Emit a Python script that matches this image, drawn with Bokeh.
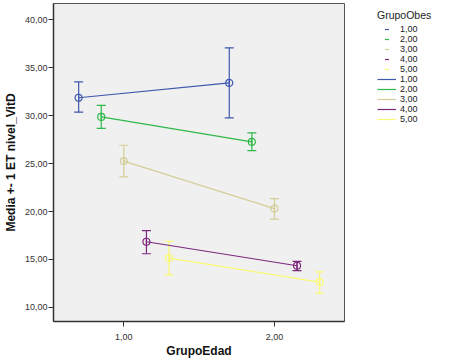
import math
from bokeh.plotting import figure
from bokeh.models import (ColumnDataSource, Whisker, TeeHead, Legend, LegendItem,
                          FixedTicker, Range1d)
from bokeh.embed import file_html
from bokeh.resources import INLINE

# ---- data ----
grupo_edad = [1.0, 2.0]
x_tick_labels = ["1,00", "2,00"]
y_ticks = [10, 15, 20, 25, 30, 35, 40]
y_tick_labels = ["10,00", "15,00", "20,00", "25,00", "30,00", "35,00", "40,00"]
grupos = ["1,00", "2,00", "3,00", "4,00", "5,00"]

mean_g1 = [31.85, 33.40]
upper_g1 = [33.50, 37.05]
lower_g1 = [30.35, 29.76]

mean_g2 = [29.85, 27.25]
upper_g2 = [31.05, 28.20]
lower_g2 = [28.65, 26.35]

mean_g3 = [25.25, 20.30]
upper_g3 = [26.90, 21.35]
lower_g3 = [23.60, 19.20]

mean_g4 = [16.85, 14.35]
upper_g4 = [18.00, 14.80]
lower_g4 = [15.60, 13.85]

mean_g5 = [15.15, 12.65]
upper_g5 = [16.90, 13.70]
lower_g5 = [13.40, 11.50]

means = [mean_g1, mean_g2, mean_g3, mean_g4, mean_g5]
uppers = [upper_g1, upper_g2, upper_g3, upper_g4, upper_g5]
lowers = [lower_g1, lower_g2, lower_g3, lower_g4, lower_g5]

# ---- style ----
colors = ["#3E58AC", "#2EB848", "#D3CE97", "#7C287D", "#FBF873"]
dodge_offsets = [-0.3, -0.15, 0.0, 0.15, 0.3]
FONT = "Liberation Sans"

p = figure(frame_width=291, frame_height=318, output_backend="svg",
           toolbar_location=None,
           x_range=Range1d(0.533, 2.465), y_range=Range1d(8.54, 41.67),
           min_border_left=45, min_border_right=0, min_border_top=3,
           min_border_bottom=30)

p.background_fill_color = "#F0F0F0"
p.border_fill_color = "white"
p.outline_line_color = "#555555"
p.outline_line_width = 1
p.xgrid.visible = False
p.ygrid.visible = False

err_items = []
line_items = []
for i in range(5):
    xs = [e + dodge_offsets[i] for e in grupo_edad]
    src = ColumnDataSource(dict(x=xs, y=means[i], up=uppers[i], lo=lowers[i]))
    lr = p.line("x", "y", source=src, line_color=colors[i], line_width=1.2)
    p.scatter("x", "y", source=src, marker="circle", size=7, fill_color=None,
              line_color=colors[i], line_width=1.2)
    w = Whisker(base="x", upper="up", lower="lo", source=src, dimension="height",
                line_color=colors[i], line_width=1.2,
                upper_head=TeeHead(size=9, line_color=colors[i], line_width=1.2),
                lower_head=TeeHead(size=9, line_color=colors[i], line_width=1.2))
    p.add_layout(w)
    icon = p.scatter("x", "y", source=src, marker="dash", angle=math.pi / 2,
                     size=8, line_color=colors[i], line_width=1.2)
    err_items.append(LegendItem(label=grupos[i], renderers=[icon]))
    line_items.append(LegendItem(label=grupos[i], renderers=[lr]))

legend = Legend(items=err_items + line_items, title="GrupoObes",
                title_text_font=FONT, title_text_font_size="10.5px",
                title_text_font_style="normal", title_text_color="#222222",
                title_standoff=3,
                label_text_font=FONT, label_text_font_size="9px",
                label_text_color="#222222",
                glyph_height=10, glyph_width=19, label_height=10,
                spacing=0, padding=5, margin=14, label_standoff=4,
                background_fill_alpha=0, border_line_alpha=0,
                location=(28, 192))
p.add_layout(legend, "right")

p.xaxis[0].ticker = FixedTicker(ticks=grupo_edad)
p.xaxis[0].major_label_overrides = {v: l for v, l in zip(grupo_edad, x_tick_labels)}
p.yaxis[0].ticker = FixedTicker(ticks=y_ticks)
p.yaxis[0].major_label_overrides = {v: l for v, l in zip(y_ticks, y_tick_labels)}
p.xaxis[0].minor_tick_line_color = None
p.yaxis[0].minor_tick_line_color = None

for ax in (p.xaxis[0], p.yaxis[0]):
    ax.axis_line_color = "#333333"
    ax.axis_line_width = 1.5
    ax.major_tick_line_color = "#333333"
    ax.major_tick_out = 5
    ax.major_tick_in = 0
    ax.major_label_text_font = FONT
    ax.major_label_text_font_size = "9px"
    ax.major_label_text_color = "#333333"
    ax.axis_label_text_font = FONT
    ax.axis_label_text_font_size = "12px"
    ax.axis_label_text_font_style = "bold"
    ax.axis_label_text_color = "#111111"

p.xaxis[0].axis_label = "GrupoEdad"
p.yaxis[0].axis_label = "Media +- 1 ET nivel_VitD"
p.xaxis[0].axis_label_standoff = 1
p.yaxis[0].axis_label_standoff = 4
p.yaxis[0].major_label_standoff = 1
p.xaxis[0].major_label_standoff = 7

open("out.html", "w").write(file_html(p, INLINE))
